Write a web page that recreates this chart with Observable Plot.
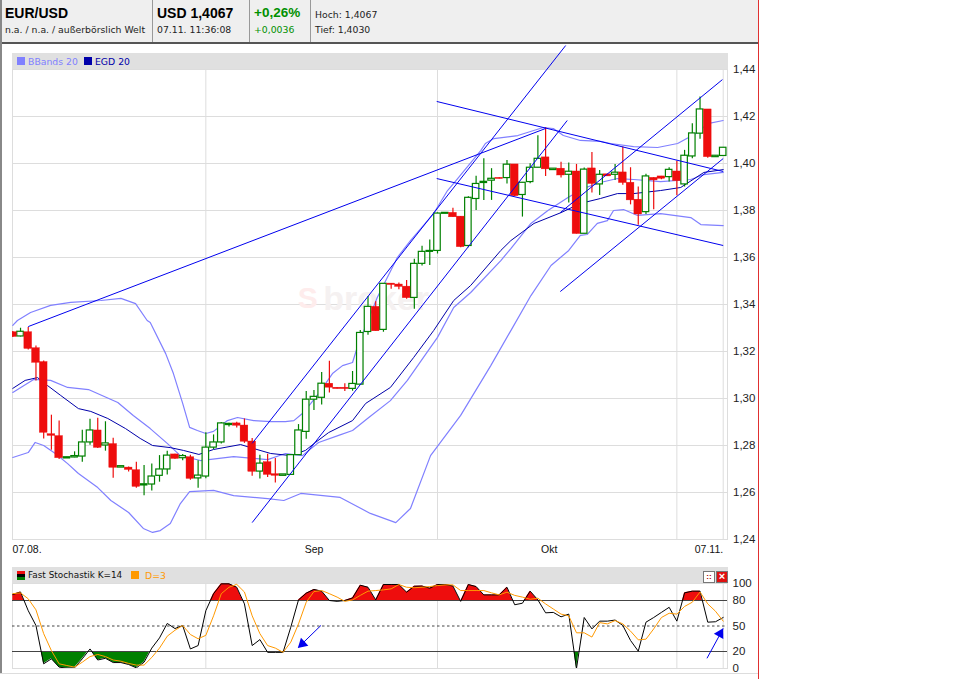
<!DOCTYPE html>
<html><head><meta charset="utf-8">
<script src="https://cdn.jsdelivr.net/npm/d3@7"></script>
<script src="https://cdn.jsdelivr.net/npm/@observablehq/plot@0.6"></script>
<style>
html,body{margin:0;padding:0;background:#fff}
#root{position:relative;width:960px;height:679px;overflow:hidden;font-family:"Liberation Sans",Arial,sans-serif;color:#000}
#root>div,#root>svg{position:absolute}
.t{white-space:nowrap;line-height:1}
.s{font-family:"DejaVu Sans",sans-serif;font-size:9.3px;color:#222}
</style></head><body>
<div id="root">
<div style="left:0;top:0;width:758px;height:42px;background:#efefef"></div>
<div style="left:0;top:42px;width:758px;height:2px;background:#555"></div>
<div style="left:0;top:0;width:2px;height:674px;background:#888"></div>
<div style="left:758px;top:0;width:1px;height:679px;background:#e03030"></div>
<div style="left:0;top:673px;width:758px;height:1px;background:#ddd"></div>
<div style="left:152px;top:0;width:1px;height:42px;background:#999"></div>
<div style="left:249px;top:0;width:1px;height:42px;background:#999"></div>
<div style="left:310px;top:0;width:1px;height:42px;background:#999"></div>
<div class="t" style="left:5px;top:6px;font-weight:bold;font-size:14px">EUR/USD</div>
<div class="t s" style="left:5px;top:25px">n.a. / n.a. / außerbörslich Welt</div>
<div class="t" style="left:157px;top:6px;font-weight:bold;font-size:14px">USD 1,4067</div>
<div class="t s" style="left:157px;top:25px">07.11. 11:36:08</div>
<div class="t" style="left:254px;top:6px;font-weight:bold;font-size:13.5px;color:#009000">+0,26%</div>
<div class="t s" style="left:254px;top:25px;color:#009000">+0,0036</div>
<div class="t s" style="left:315px;top:10px">Hoch: 1,4067</div>
<div class="t s" style="left:315px;top:25px">Tief: 1,4030</div>
<div style="left:12px;top:53px;width:716px;height:16px;background:#e0e0e0"></div>
<div style="left:17px;top:57px;width:8px;height:8px;background:#8080ff"></div>
<div class="t s" style="left:28px;top:57px;color:#8080ff">BBands 20</div>
<div style="left:84px;top:57px;width:8px;height:8px;background:#0000aa"></div>
<div class="t s" style="left:95px;top:57px;color:#0000aa">EGD 20</div>
<div style="left:12px;top:567px;width:716px;height:16px;background:#e0e0e0"></div>
<div style="left:17px;top:571px;width:8px;height:3px;background:#ee0d0d"></div>
<div style="left:17px;top:574px;width:8px;height:3px;background:#000"></div>
<div style="left:17px;top:577px;width:8px;height:3px;background:#008000"></div>
<div class="t s" style="left:28px;top:571px;color:#111;font-size:8.9px">Fast Stochastik K=14</div>
<div style="left:131px;top:571px;width:8px;height:8px;background:#ff9900"></div>
<div class="t s" style="left:145px;top:571px;color:#ff9900">D=3</div>
<div class="t" style="left:703px;top:571px;width:10px;height:10px;border:1px solid #777;background:#fff;color:#a00;font-size:8px;line-height:9px;text-align:center;font-weight:bold">::</div>
<div class="t" style="left:716px;top:571px;width:10px;height:10px;border:1px solid #777;background:#e01010;color:#fff;font-size:11px;line-height:9px;text-align:center;font-weight:bold">×</div>
</div>
<script>
const open_ = [1.3282,1.3264,1.3282,1.3214,1.3155,1.2848,1.2840,1.2745,1.2749,1.2753,1.2813,1.2864,1.2800,1.2806,1.2706,1.2706,1.2695,1.2630,1.2634,1.2671,1.2698,1.2762,1.2746,1.2750,1.2660,1.2668,1.2791,1.2813,1.2887,1.2894,1.2885,1.2817,1.2689,1.2729,1.2678,1.2671,1.2675,1.2759,1.2858,1.2995,1.3003,1.3063,1.3046,1.3046,1.3041,1.3059,1.3283,1.3390,1.3292,1.3489,1.3485,1.3476,1.3428,1.3573,1.3624,1.3628,1.3786,1.3790,1.3774,1.3649,1.3849,1.3917,1.3927,1.3939,1.3938,1.3996,1.3866,1.3921,1.3982,1.4026,1.3972,1.3978,1.3952,1.3966,1.3701,1.3979,1.3911,1.3954,1.3952,1.3962,1.3918,1.3846,1.3793,1.3939,1.3945,1.3942,1.3966,1.3911,1.4030,1.4127,1.4230,1.4027,1.4032];
const close_ = [1.3262,1.3284,1.3211,1.3152,1.2854,1.2841,1.2746,1.2750,1.2755,1.2813,1.2864,1.2790,1.2809,1.2705,1.2712,1.2696,1.2624,1.2635,1.2668,1.2698,1.2757,1.2743,1.2755,1.2658,1.2672,1.2791,1.2813,1.2894,1.2892,1.2884,1.2816,1.2688,1.2723,1.2675,1.2671,1.2677,1.2759,1.2864,1.2995,1.3007,1.3063,1.3046,1.3040,1.3040,1.3062,1.3279,1.3390,1.3286,1.3488,1.3483,1.3475,1.3427,1.3573,1.3624,1.3628,1.3787,1.3790,1.3771,1.3644,1.3854,1.3913,1.3922,1.3935,1.3934,1.3995,1.3861,1.3918,1.3982,1.4020,1.3975,1.3978,1.3949,1.3965,1.3700,1.3974,1.3913,1.3952,1.3945,1.3961,1.3917,1.3843,1.3783,1.3945,1.3928,1.3935,1.3973,1.3925,1.4033,1.4128,1.4230,1.4027,1.4033,1.4067];
const high_ = [1.3285,1.3299,1.3302,1.3223,1.3160,1.2929,1.2904,1.2750,1.2773,1.2865,1.2912,1.2916,1.2901,1.2831,1.2712,1.2709,1.2729,1.2715,1.2721,1.2757,1.2776,1.2763,1.2762,1.2759,1.2735,1.2854,1.2845,1.2898,1.2895,1.2899,1.2913,1.2830,1.2759,1.2763,1.2745,1.2677,1.2759,1.2889,1.3030,1.3034,1.3111,1.3158,1.3046,1.3063,1.3115,1.3289,1.3434,1.3412,1.3488,1.3489,1.3492,1.3502,1.3593,1.3648,1.3675,1.3790,1.3790,1.3810,1.3774,1.3859,1.3946,1.4020,1.3978,1.3939,1.4013,1.3996,1.3918,1.3999,1.4118,1.4152,1.3978,1.4005,1.4002,1.3996,1.3981,1.4047,1.3970,1.3954,1.3996,1.4070,1.3982,1.3900,1.3954,1.3939,1.3945,1.3982,1.4010,1.4056,1.4169,1.4283,1.4230,1.4033,1.4067];
const low_ = [1.3260,1.3262,1.3206,1.3075,1.2828,1.2780,1.2740,1.2745,1.2748,1.2729,1.2801,1.2787,1.2776,1.2661,1.2706,1.2687,1.2618,1.2586,1.2606,1.2644,1.2674,1.2742,1.2735,1.2652,1.2618,1.2658,1.2783,1.2806,1.2879,1.2874,1.2809,1.2669,1.2657,1.2664,1.2640,1.2671,1.2675,1.2759,1.2827,1.2949,1.2972,1.3023,1.3040,1.3030,1.3031,1.3059,1.3269,1.3286,1.3282,1.3465,1.3463,1.3422,1.3380,1.3564,1.3566,1.3615,1.3786,1.3771,1.3641,1.3641,1.3800,1.3843,1.3843,1.3934,1.3913,1.3860,1.3772,1.3914,1.3982,1.3945,1.3972,1.3938,1.3832,1.3700,1.3701,1.3874,1.3864,1.3945,1.3928,1.3907,1.3824,1.3737,1.3783,1.3803,1.3931,1.3921,1.3863,1.3900,1.4020,1.4103,1.4022,1.4027,1.4032];

const upperIdx = [0,0.6,2.3,4.9,7.5,11.4,14,15.9,17.4,17.8,19.8,20.8,22,22.9,23.9,25,26,27.8,29.1,31.2,33.4,35.3,36.4,37.5,38.6,39.6,41.4,42.7,44,44.6,47.2,49.8,51.5,54.5,56.3,57.1,60.6,61.2,62.3,65.4,68.7,70,71.3,73.5,76.1,77.4,80.4,83.5,86.1,88.7,90,92];
const upperVal = [1.3311,1.3332,1.3366,1.3396,1.3409,1.3417,1.3426,1.3404,1.3332,1.3323,1.3191,1.3106,1.2979,1.2877,1.2864,1.2851,1.2860,1.2906,1.2919,1.2906,1.2902,1.2902,1.2906,1.2936,1.2979,1.3021,1.3106,1.3140,1.3153,1.3217,1.3430,1.3600,1.3672,1.3787,1.3885,1.3915,1.4055,1.4085,1.4106,1.4119,1.4153,1.4149,1.4119,1.4098,1.4094,1.4085,1.4072,1.4068,1.4085,1.4132,1.4170,1.4183];
const midIdx = [0,2.7,4.9,7.1,9.8,13.6,15.6,17.8,20,21.7,24.3,28.6,33,35.3,37.5,39.6,42.2,44,46.1,48.9,51.1,55,57.1,59.3,63.2,64.5,67.1,69.3,71.9,73.9,76.1,78.3,80.4,83.9,87.8,89.5,92];
const midVal = [1.3026,1.3081,1.3077,1.3047,1.3038,1.2983,1.2928,1.2872,1.2809,1.2757,1.2736,1.2753,1.2740,1.2766,1.2757,1.2813,1.2843,1.2864,1.2919,1.2991,1.3077,1.3260,1.3387,1.3451,1.3587,1.3638,1.3745,1.3800,1.3855,1.3894,1.3919,1.3936,1.3932,1.3923,1.3932,1.3953,1.3962];
const lowerIdx = [0,2,2.9,4,5.5,7.1,8.5,11,12.7,15,16.9,18.1,19.1,20.4,21.7,22.9,26,28.6,33,35.1,37.3,42.4,46.3,49.6,51.5,54.1,58,61.9,64.5,67.1,69.7,72,73.5,74.4,75.7,77,77.8,79.1,80.9,83.9,87.8,89.1,92];
const lowerVal = [1.2749,1.2770,1.2813,1.2800,1.2766,1.2723,1.2681,1.2621,1.2566,1.2515,1.2447,1.2430,1.2438,1.2468,1.2553,1.2604,1.2609,1.2587,1.2574,1.2566,1.2596,1.2579,1.2511,1.2472,1.2532,1.2757,1.2928,1.3140,1.3289,1.3438,1.3566,1.3630,1.3694,1.3698,1.3745,1.3757,1.3800,1.3804,1.3779,1.3787,1.3770,1.3740,1.3736];
const egdIdx = [0,1.6,3.2,4.5,6.2,8.5,10.1,12.3,14.6,16.5,18.1,20.4,22.1,24.1,26,29.5,31.2,33.4,36,37.9,39.2,40.9,44,45.7,48.9,51.9,54.5,57.1,59.3,63.2,64.5,67.5,71,73.5,76.1,78.3,80.4,83.9,86.5,89.5,92];
const egdVal = [1.3043,1.3077,1.3089,1.3055,1.3013,1.2957,1.2945,1.2915,1.2872,1.2830,1.2800,1.2791,1.2779,1.2762,1.2783,1.2804,1.2787,1.2766,1.2757,1.2779,1.2813,1.2855,1.2906,1.2979,1.3047,1.3174,1.3289,1.3417,1.3481,1.3630,1.3672,1.3745,1.3791,1.3830,1.3851,1.3872,1.3872,1.3885,1.3898,1.3962,1.3974];

const trendStartIdx = [2,54.9,54.9,31,31,70.9,70.9];
const trendStartVal = [1.3306,1.4264,1.3936,1.2809,1.2472,1.3455,1.3791];
const trendEndIdx = [69,92,92,71.6,71.8,92,91.9];
const trendEndVal = [1.4149,1.3966,1.3651,1.4502,1.4183,1.4021,1.4357];

const stochK = [87,90,68,50.6,5.5,11.4,1.6,0.4,0.8,11.4,23,10,12,7,7,4.7,0.8,7.4,24,36,53,47,50.6,23,27,68,88,99.6,99.6,95.6,76,27,34,19,19,19,48.6,80.7,88.6,93,91,80,79,80,83,98,95.6,80.7,98.8,98.8,98.8,89.8,96.8,97,94.5,98.8,98.8,97,79,98.8,96.4,86.6,86.6,86.6,95.6,75,76.8,91,80.7,65.5,66,60.8,64,0,60,46.6,55.7,55.7,57,50.6,33,20.4,54.5,60,66,72,55.7,89,91,91,54.5,55,60];
const stochD = [88,89,82,69,41,21,5.5,3.5,1.6,7.4,14,16.5,14,10,8.6,6,4,4,13,24,38,45,50.6,40,35,39,62,88,95.6,99,90,62,41,27,24,19,31,52.5,78,90.5,91.7,88,84,79,80.7,86,91,91.7,92.5,93.7,98.8,95.6,95,95.6,96.4,97.6,98.4,98.4,91.7,91.7,91.7,91.7,89,86.6,89.8,86,84,81.5,82.7,76,70,64,62,42,42,37,54,52.5,56.4,52.5,44,33.7,34.5,46.6,60,65,64,73,78,90,76,67.4,55.7];

const priceTicks = [1.24,1.26,1.28,1.30,1.32,1.34,1.36,1.38,1.40,1.42,1.44];
const gridIdx = [25,55,86,92];
const dateLabels = ["07.08.","Sep","Okt","07.11."];
const dateIdx = [-0.05,37.8,68.4,92];
const stochLevels = [0,20,50,80,100];
const arrowFromIdx = [39.9,89.9], arrowFromVal = [50.6,12];
const arrowToIdx = [37,92], arrowToVal = [25,47];
const arrowHeadIdx = [37.5,91.6], arrowHeadVal = [29,41], arrowHeadRot = [227,29];

const blue="#0000ee", band="#8080ff", egd="#0000aa", red="#ee0d0d", green="#008000", orange="#ff9900";
const zip=(xs,ys)=>xs.map((x,i)=>({x,y:ys[i]}));
const candles=open_.map((o,i)=>({i,o,c:close_[i],h:high_[i],l:low_[i],up:close_[i]>=o}));
const ups=candles.filter(d=>d.up), downs=candles.filter(d=>!d.up);
const comma=d=>d3.format(".2f")(d).replace(".",",");
const xDom=[0,92], xRange=[12.3,722.7];

const trends=trendStartIdx.map((x,i)=>({x1:x,y1:trendStartVal[i],x2:trendEndIdx[i],y2:trendEndVal[i]}));
const bandLine=(xs,ys,stroke,w=1)=>Plot.line(zip(xs,ys),{x:"x",y:"y",stroke,strokeWidth:w,clip:"frame"});

const main=Plot.plot({
  width:960,height:560,marginLeft:12,marginRight:233,marginTop:69,marginBottom:21,
  x:{domain:xDom,range:xRange,axis:null},
  y:{domain:[1.24,1.44],range:[539,69],axis:null},
  style:{background:"transparent",fontFamily:"'Liberation Sans',Arial,sans-serif",overflow:"visible"},
  marks:[
    Plot.ruleY(priceTicks,{stroke:"#dddddd",strokeWidth:1}),
    Plot.ruleX(gridIdx,{stroke:"#dddddd",strokeWidth:1}),
    Plot.text(["broker"],{x:[40.2],y:[1.3425],textAnchor:"start",fontSize:34,fontWeight:"bold",fill:"#f5f1f1"}),
    Plot.text(["S"],{x:[36.9],y:[1.3425],textAnchor:"start",fontSize:30,fontWeight:"bold",fill:"#feecec"}),
    Plot.frame({stroke:"#dddddd"}),
    bandLine(upperIdx,upperVal,band,1.2),
    bandLine(midIdx,midVal,band,1.2),
    bandLine(lowerIdx,lowerVal,band,1.2),
    bandLine(egdIdx,egdVal,egd,1),
    Plot.ruleX(ups,{x:"i",y1:"l",y2:"h",stroke:green,strokeWidth:1.2}),
    Plot.ruleX(downs,{x:"i",y1:"l",y2:"h",stroke:red,strokeWidth:1.2}),
    Plot.rect(ups,{x1:d=>d.i-0.42,x2:d=>d.i+0.42,y1:"o",y2:"c",fill:"#fff",stroke:green,strokeWidth:1.2,clip:"frame"}),
    Plot.rect(downs,{x1:d=>d.i-0.5,x2:d=>d.i+0.5,y1:"o",y2:"c",fill:red,stroke:red,strokeWidth:0.4,clip:"frame"}),
    Plot.link(trends,{x1:"x1",y1:"y1",x2:"x2",y2:"y2",stroke:blue,strokeWidth:1}),
    Plot.axisY(priceTicks,{anchor:"right",tickSize:0,tickPadding:5.5,tickFormat:comma,fontSize:11.5,fill:"#222",label:null}),
    Plot.text(dateLabels.slice(0,3),{x:dateIdx.slice(0,3),y:[1.24,1.24,1.24],dy:10,textAnchor:"start",fontSize:10.5,fill:"#111"}),
    Plot.text(dateLabels.slice(3),{x:dateIdx.slice(3),y:[1.24],dy:10,textAnchor:"end",fontSize:10.5,fill:"#111"})
  ]
});
main.style.left="0";main.style.top="0";
document.getElementById("root").appendChild(main);

function fillSeries(vals,level,above){
  const out=[];
  vals.forEach((v,i)=>{
    if(i>0){const p=vals[i-1];
      if((p-level)*(v-level)<0) out.push({x:i-1+(level-p)/(v-p),y:level});}
    out.push({x:i,y:above?Math.max(v,level):Math.min(v,level)});
  });
  return out;
}
const stoch=Plot.plot({
  width:960,height:119,marginLeft:12,marginRight:233,marginTop:23,marginBottom:11,
  x:{domain:xDom,range:xRange,axis:null},
  y:{domain:[0,100],range:[108,23],axis:null},
  style:{background:"transparent",fontFamily:"'Liberation Sans',Arial,sans-serif",overflow:"visible"},
  marks:[
    Plot.ruleX(gridIdx,{stroke:"#dddddd",strokeWidth:1}),
    Plot.frame({stroke:"#dddddd"}),
    Plot.areaY(fillSeries(stochK,80,true),{x:"x",y1:()=>80,y2:"y",fill:red}),
    Plot.areaY(fillSeries(stochK,20,false),{x:"x",y1:()=>20,y2:"y",fill:green}),
    Plot.ruleY([80,20],{stroke:"#444",strokeWidth:1}),
    Plot.ruleY([50],{stroke:"#444",strokeWidth:1,strokeDasharray:"2.5,2.5"}),
    Plot.line(stochK.map((y,x)=>({x,y})),{x:"x",y:"y",stroke:"#000",strokeWidth:1,clip:"frame"}),
    Plot.line(stochD.map((y,x)=>({x,y})),{x:"x",y:"y",stroke:orange,strokeWidth:1,clip:"frame"}),
    Plot.link(arrowFromIdx.map((x,i)=>({x1:x,y1:arrowFromVal[i],x2:arrowToIdx[i],y2:arrowToVal[i]})),{x1:"x1",y1:"y1",x2:"x2",y2:"y2",stroke:blue,strokeWidth:1}),
    Plot.dot(arrowHeadIdx.map((x,i)=>({x,y:arrowHeadVal[i],a:arrowHeadRot[i]})),{x:"x",y:"y",symbol:"triangle",r:4,fill:blue,rotate:"a"}),
    Plot.axisY(stochLevels,{anchor:"right",tickSize:0,tickPadding:5,fontSize:11.5,fill:"#222",label:null,tickFormat:d=>String(d)})
  ]
});
stoch.style.left="0";stoch.style.top="560px";
document.getElementById("root").appendChild(stoch);
</script>
</body></html>
